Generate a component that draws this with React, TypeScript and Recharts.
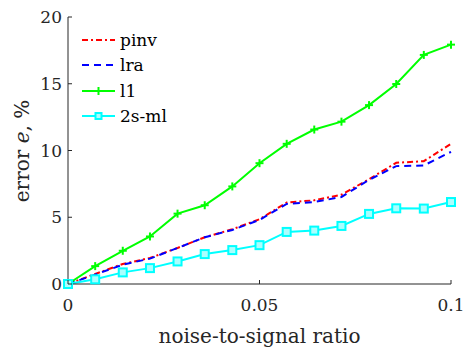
import { LineChart, Line, XAxis, YAxis } from 'recharts';

const noise = [0, 0.0071, 0.0143, 0.0214, 0.0286, 0.0357, 0.0429, 0.05, 0.0571, 0.0643, 0.0714, 0.0786, 0.0857, 0.0929, 0.1];
const pinv = [0, 0.75, 1.5, 1.95, 2.7, 3.5, 4.1, 4.85, 6.1, 6.27, 6.69, 7.85, 9.08, 9.2, 10.5];
const lra = [0, 0.7, 1.45, 1.9, 2.7, 3.5, 4.05, 4.8, 6.0, 6.14, 6.52, 7.8, 8.83, 8.88, 9.9];
const l1 = [0, 1.34, 2.49, 3.56, 5.27, 5.9, 7.31, 9.05, 10.5, 11.57, 12.16, 13.4, 14.98, 17.16, 17.93];
const twoSml = [0, 0.35, 0.87, 1.19, 1.69, 2.24, 2.54, 2.91, 3.9, 4.0, 4.35, 5.25, 5.67, 5.65, 6.14];

const xTicks = [0, 0.05, 0.1];
const yTicks = [0, 5, 10, 15, 20];

const data = noise.map((x, i) => ({
  x,
  pinv: pinv[i],
  lra: lra[i],
  l1: l1[i],
  sml: twoSml[i],
}));

const font = '"DejaVu Serif", "Liberation Serif", serif';
const ink = '#262626';

const series = [
  { key: 'pinv', name: 'pinv', color: '#ff0000', dash: '6 3 2 3', marker: 'none' },
  { key: 'lra', name: 'lra', color: '#0000ff', dash: '7 5', marker: 'none' },
  { key: 'l1', name: 'l1', color: '#00ff00', dash: undefined, marker: 'plus' },
  { key: 'sml', name: '2s-ml', color: '#00ffff', dash: undefined, marker: 'square' },
];

const PlusDot = (props: any) => {
  const { cx, cy, stroke } = props;
  if (cx == null || cy == null) return null;
  return (
    <g>
      <line x1={cx - 4} y1={cy} x2={cx + 4} y2={cy} stroke={stroke} strokeWidth={2} />
      <line x1={cx} y1={cy - 4} x2={cx} y2={cy + 4} stroke={stroke} strokeWidth={2} />
    </g>
  );
};

const SquareDot = (props: any) => {
  const { cx, cy, stroke } = props;
  if (cx == null || cy == null) return null;
  return <rect x={cx - 4} y={cy - 4} width={8} height={8} fill="#aaffff" stroke={stroke} strokeWidth={2} />;
};

const XTick = (props: any) => {
  const { x, y, payload } = props;
  const axisY = y - 6;
  return (
    <g>
      <line x1={x} y1={axisY} x2={x} y2={axisY - 4} stroke={ink} strokeWidth={1} />
      <text x={x} y={axisY + 27} textAnchor="middle" fontFamily={font} fontSize={17} fill={ink}>
        {payload.value}
      </text>
    </g>
  );
};

const YTick = (props: any) => {
  const { x, y, payload } = props;
  const axisX = x + 6;
  return (
    <g>
      <line x1={axisX} y1={y} x2={axisX + 4} y2={y} stroke={ink} strokeWidth={1} />
      <text x={axisX - 6} y={y + 6} textAnchor="end" fontFamily={font} fontSize={17} fill={ink}>
        {payload.value}
      </text>
    </g>
  );
};

const LegendBox = () => (
  <div style={{ position: 'absolute', left: 81, top: 27, fontFamily: font, fontSize: 17, color: '#000' }}>
    {series.map((s) => (
      <div key={s.key} style={{ display: 'flex', alignItems: 'center', height: 25.5 }}>
        <svg width={36} height={12} style={{ marginRight: 3 }}>
          <line x1={1} y1={6} x2={34} y2={6} stroke={s.color} strokeWidth={2} strokeDasharray={s.dash} />
          {s.marker === 'plus' && (
            <g>
              <line x1={13.5} y1={6} x2={21.5} y2={6} stroke={s.color} strokeWidth={2} />
              <line x1={17.5} y1={2} x2={17.5} y2={10} stroke={s.color} strokeWidth={2} />
            </g>
          )}
          {s.marker === 'square' && (
            <rect x={14.5} y={3} width={6} height={6} fill="#aaffff" stroke={s.color} strokeWidth={2} />
          )}
        </svg>
        <span>{s.name}</span>
      </div>
    ))}
  </div>
);

export default function App() {
  return (
    <div style={{ position: 'absolute', left: 0, top: 0, width: 464, height: 349, background: '#fff' }}>
      <LineChart width={464} height={349} data={data} margin={{ top: 17, right: 13, left: 0, bottom: 0 }}>
        <XAxis
          dataKey="x"
          type="number"
          domain={[0, 0.1]}
          ticks={xTicks}
          tick={<XTick />}
          tickLine={false}
          tickSize={0}
          tickMargin={6}
          height={65}
          stroke={ink}
          label={{
            value: 'noise-to-signal ratio',
            position: 'insideBottom',
            offset: 6,
            fontFamily: font,
            fontSize: 20,
            fill: ink,
          }}
        />
        <YAxis
          type="number"
          domain={[0, 20]}
          ticks={yTicks}
          tick={<YTick />}
          tickLine={false}
          tickSize={0}
          tickMargin={6}
          width={68}
          stroke={ink}
          label={() => {
            const cx = 29;
            const cy = 151;
            return (
              <text
                x={cx}
                y={cy}
                transform={`rotate(-90 ${cx} ${cy})`}
                textAnchor="middle"
                fontFamily={font}
                fontSize={20}
                fill={ink}
              >
                error <tspan fontStyle="italic">e</tspan>, %
              </text>
            );
          }}
        />
        {series.map((s) => (
          <Line
            key={s.key}
            dataKey={s.key}
            name={s.name}
            stroke={s.color}
            strokeWidth={2}
            strokeDasharray={s.dash}
            dot={s.marker === 'plus' ? <PlusDot /> : s.marker === 'square' ? <SquareDot /> : false}
            activeDot={false}
            isAnimationActive={false}
          />
        ))}
      </LineChart>
      <LegendBox />
    </div>
  );
}
